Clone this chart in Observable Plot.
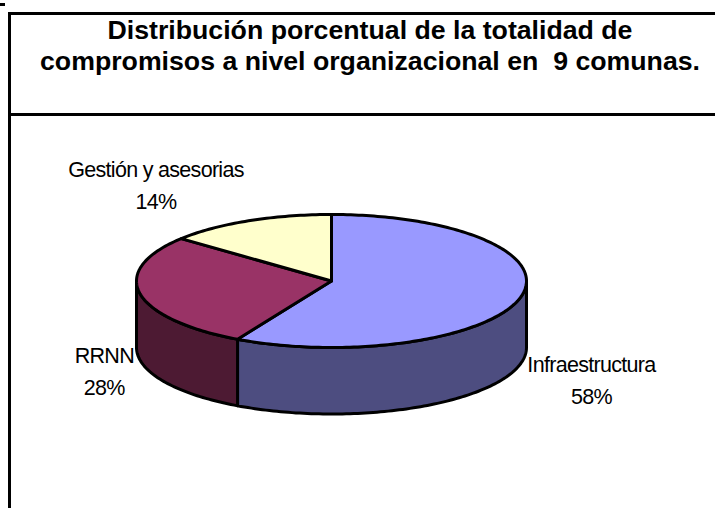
<!DOCTYPE html>
<html><head><meta charset="utf-8">
<script src="https://cdn.jsdelivr.net/npm/d3@7"></script>
<script src="https://cdn.jsdelivr.net/npm/@observablehq/plot@0.6"></script>
<style>
html,body{margin:0;padding:0;background:#fff;overflow:hidden}
#page{position:relative;width:715px;height:508px;overflow:hidden;font-family:"Liberation Sans",Arial,sans-serif}
#mark{position:absolute;left:0;top:3px;width:5px;height:3px;background:#000}
#head{position:absolute;left:8px;top:12px;width:707px;height:98px;border:3px solid #000;border-right:none;box-sizing:content-box}
#head h1{margin:0;position:absolute;left:0;width:718px;top:0;text-align:center;font-size:26.7px;line-height:31px;font-weight:bold;color:#000;white-space:nowrap}
#chart{position:absolute;left:0;top:116px;width:715px;height:392px}
#side{position:absolute;left:8px;top:116px;width:3px;height:392px;background:#000}
</style></head><body>
<div id="page">
<div id="mark"></div>
<div id="head"><h1>Distribución porcentual de la totalidad de<br>compromisos a nivel organizacional en&nbsp; 9 comunas.</h1></div>
<div id="side"></div>
<div id="chart"></div>
</div>
<script>
const categories = ["Infraestructura", "RRNN", "Gestión y asesorias"];
const shares = [58, 28, 14];
const topColors = ["#9999ff", "#993366", "#ffffcc"];
const wallColors = ["#4d4d80", "#4d1a33", "#80805f"];
// label anchors, in pie radii from the centre of the top ellipse
const labelX = [1.333, -1.165, -0.9];
const labelY = [-1.51, -1.375, 1.42];

const depth = 1; // pie thickness in units of the vertical radius
const total = d3.sum(shares);
const tau = 2 * Math.PI;
const rim = (a, drop = 0) => ({x: Math.sin(a), y: Math.cos(a) - drop});
const arc = (a0, a1, drop = 0) => {
  const n = Math.max(2, Math.ceil((a1 - a0) / 0.02));
  return d3.range(n + 1).map(i => rim(a0 + (a1 - a0) * i / n, drop));
};
let acc = 0;
const slices = shares.map((v, i) => {
  const a0 = acc / total * tau; acc += v;
  return {i, a0, a1: acc / total * tau};
});
const wallOf = s => {
  const a0 = Math.max(s.a0, Math.PI / 2), a1 = Math.min(s.a1, 3 * Math.PI / 2);
  return a1 > a0 ? [...arc(a0, a1), ...arc(a0, a1, depth).reverse()] : null;
};
const topOf = s => [{x: 0, y: 0}, ...arc(s.a0, s.a1)];
const outline = {stroke: "#000", strokeWidth: 3, strokeLinejoin: "round", curve: "linear-closed"};
const marks = [];
slices.forEach(s => {
  const w = wallOf(s);
  if (w) marks.push(Plot.line(w, {x: "x", y: "y", fill: wallColors[s.i], ...outline}));
});
slices.forEach(s => marks.push(Plot.line(topOf(s), {x: "x", y: "y", fill: topColors[s.i], ...outline})));
const labels = categories.map((c, i) => ({c, p: shares[i] + "%", x: labelX[i], y: labelY[i]}));
const textStyle = {x: "x", y: "y", fontFamily: "Liberation Sans, Arial, sans-serif", fontSize: 21.5, fill: "#000", textAnchor: "middle"};
marks.push(Plot.text(labels, {...textStyle, text: "c", dy: -16}));
marks.push(Plot.text(labels, {...textStyle, text: "p", dy: 16}));

const plot = Plot.plot({
  width: 715, height: 392, margin: 0, axis: null,
  style: {letterSpacing: "-0.7px", background: "transparent"},
  x: {domain: [-1, 1], range: [136, 526]},
  y: {domain: [-1, 1], range: [231, 98]},
  marks
});
document.getElementById("chart").append(plot);
</script></body></html>
